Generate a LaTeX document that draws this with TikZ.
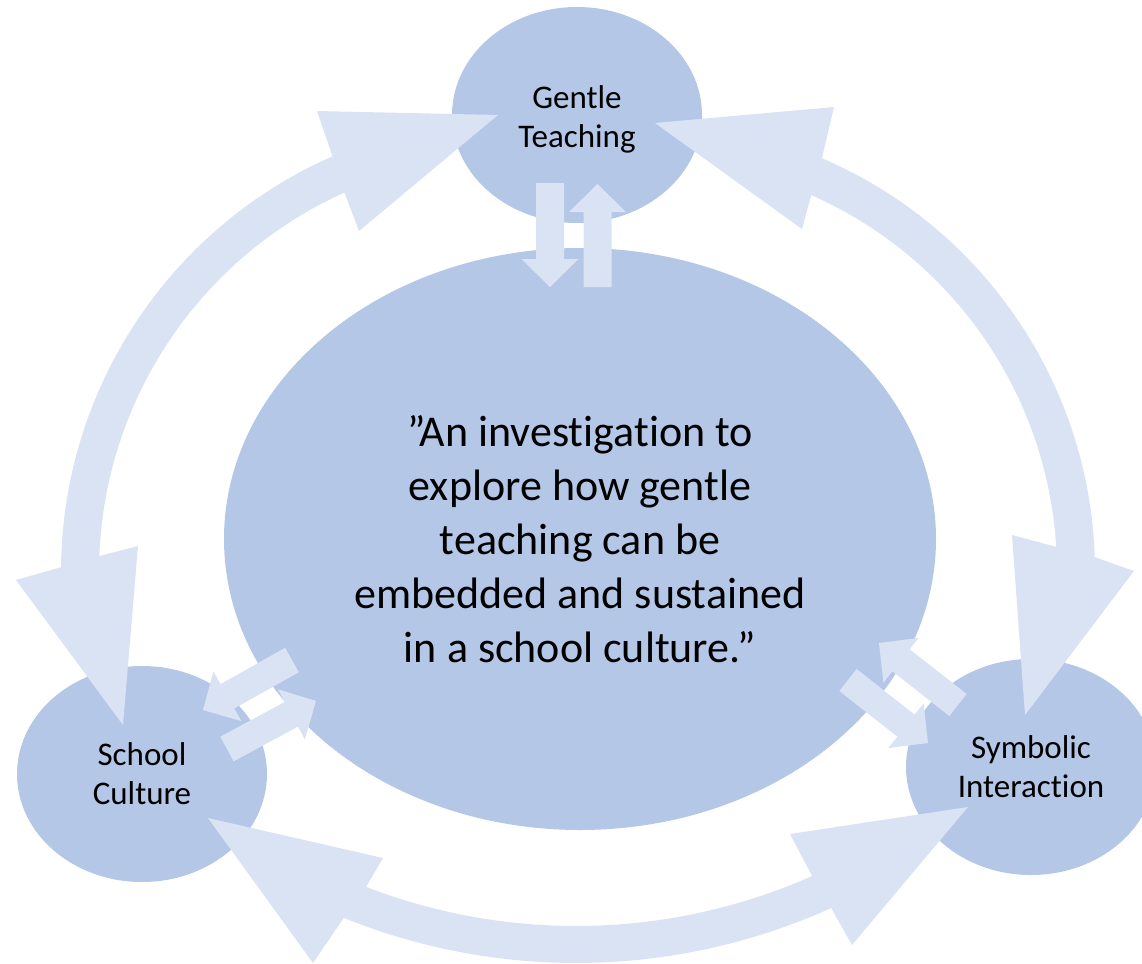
\documentclass[tikz,border=0pt]{standalone}
\usepackage{fontspec}
\setmainfont{Carlito}[Ligatures=CommonOff]
\usetikzlibrary{shapes.geometric,calc}
\definecolor{ovalfill}{HTML}{B4C7E7}
\definecolor{arrowfill}{HTML}{DAE3F3}

% straight block arrow from tail #1 to tip #2 (shaft 14pt, head 28.5pt wide, 14pt long)
\newcommand\linkarrow[2]{%
  \coordinate (la-h) at ($(#2)!14pt!(#1)$);
  \fill[arrowfill] ($(#1)!7pt!90:(#2)$) -- ($(la-h)!7pt!90:(#2)$)
    -- ($(la-h)!14.25pt!90:(#2)$) -- (#2) -- ($(la-h)!14.25pt!-90:(#2)$)
    -- ($(la-h)!7pt!-90:(#2)$) -- ($(#1)!7pt!-90:(#2)$) -- cycle;
}

\begin{document}
\begin{tikzpicture}[x=0.5pt,y=-0.5pt,
  oval/.style={ellipse, fill=ovalfill, inner sep=0pt, align=center,
    font=\fontsize{16.5pt}{19.5pt}\selectfont},
  smalloval/.style={oval, minimum width=125pt, minimum height=108pt},
  band/.style={fill=arrowfill}]
\useasboundingbox (0,0) rectangle (1142,964);

% topics
\node[smalloval] (gentle) at (577,115) {};
\node[align=center, inner sep=0pt, font=\fontsize{16.5pt}{19.5pt}\selectfont]
  (gentle-label) at (577,119) {Gentle\\Teaching};
\node[smalloval] (school) at (142,774) {School\\Culture};
\node[smalloval] (symbolic) at (1031,767) {Symbolic\\Interaction};
\node[oval, minimum width=356pt, minimum height=291pt,
  font=\fontsize{22pt}{27pt}\selectfont] (core) at (580,539)
  {”An investigation to\\explore how gentle\\teaching can be\\embedded and sustained\\in a school culture.”};

% curved two-headed arrows between the topics
\coordinate (leftc) at (515,572);
\coordinate (rightc) at (645,572);
\coordinate (bottomc) at (576,343);

\begin{scope}[shift={(leftc)}]
  \fill[band] (-392,153) -- (-499,8) -- (180.6:454)
    arc[start angle=180.6, end angle=246.3, radius=454]
    -- (-198,-461) -- (-17,-457) -- (-156,-341) -- (245.8:416)
    arc[start angle=245.8, end angle=182.2, radius=416]
    -- (-377,-26) -- cycle;
\end{scope}

\begin{scope}[shift={(rightc)}]
  \fill[band] (10,-449) -- (189,-465) -- (-66.85:450)
    arc[start angle=-66.85, end angle=-1.9, radius=450]
    -- (489,-1) -- (380,143) -- (367,-37) -- (-3.5:412)
    arc[start angle=-3.5, end angle=-66.2, radius=412]
    -- (157,-343) -- cycle;
\end{scope}

\begin{scope}[shift={(bottomc)}]
  \fill[band] (-368,475) -- (-193,515) -- (111.1:583)
    arc[start angle=111.1, end angle=66.1, radius=583]
    -- (214,491) -- (392,464) -- (276,602) -- (65.7:620)
    arc[start angle=65.7, end angle=112, radius=620]
    -- (-263,620) -- cycle;
\end{scope}

% straight arrows between the core and each topic
\coordinate (g-out) at (550,183);   \coordinate (c-in-g) at (550,287);
\coordinate (c-out-g) at (597.5,287); \coordinate (g-in) at (597.5,184);
\coordinate (c-out-s) at (292,660); \coordinate (s-in) at (203,710);
\coordinate (s-out) at (227,749);   \coordinate (c-in-s) at (316,701);
\coordinate (y-out) at (958,705);   \coordinate (c-in-y) at (879,643);
\coordinate (c-out-y) at (848,680); \coordinate (y-in) at (928,743);

\linkarrow{g-out}{c-in-g}
\linkarrow{c-out-g}{g-in}
\linkarrow{c-out-s}{s-in}
\linkarrow{s-out}{c-in-s}
\linkarrow{y-out}{c-in-y}
\linkarrow{c-out-y}{y-in}
\end{tikzpicture}
\end{document}
